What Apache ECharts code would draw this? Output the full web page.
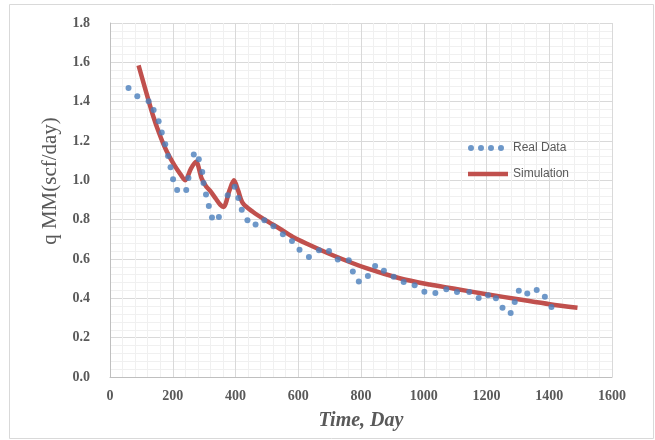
<!DOCTYPE html>
<html>
<head>
<meta charset="utf-8">
<script src="https://cdn.jsdelivr.net/npm/echarts@6/dist/echarts.min.js"></script>
<style>html,body{margin:0;padding:0;background:#fff;}#c{width:655px;height:440px;}</style>
</head>
<body>
<div id="c"></div>
<script>
// Real Data: [day, q]
const realDays = [59,87,123,139,155,165,176,185,193,201,214,243,250,267,283,294,298,306,315,325,347,375,397,409,420,438,464,492,521,551,580,604,634,666,698,726,761,774,793,822,845,873,904,936,971,1002,1037,1072,1106,1145,1175,1205,1230,1251,1277,1290,1303,1330,1360,1386,1407];
const realQ    = [1.470,1.428,1.402,1.357,1.301,1.243,1.184,1.124,1.067,1.006,0.951,0.951,1.012,1.131,1.107,1.043,0.987,0.928,0.870,0.811,0.814,0.924,0.967,0.910,0.851,0.797,0.775,0.797,0.767,0.726,0.692,0.647,0.610,0.644,0.641,0.597,0.594,0.537,0.485,0.514,0.565,0.540,0.510,0.483,0.466,0.434,0.427,0.446,0.432,0.432,0.402,0.416,0.400,0.352,0.326,0.381,0.439,0.424,0.442,0.408,0.356];
// Simulation
const simDays = [91,115,136,157,179,205,227,240,258,274,292,306,320,338,352,362,381,395,408,423,455,498,540,583,631,710,817,923,1019,1094,1200,1306,1402,1490];
const simQ    = [1.585,1.450,1.335,1.238,1.153,1.077,1.025,1.000,1.060,1.095,1.010,0.970,0.945,0.905,0.875,0.865,0.950,1.000,0.950,0.885,0.840,0.795,0.755,0.712,0.675,0.619,0.553,0.502,0.470,0.450,0.421,0.394,0.370,0.352];
const xTicks = [0,200,400,600,800,1000,1200,1400,1600];
const yTicks = [0,0.2,0.4,0.6,0.8,1.0,1.2,1.4,1.6,1.8];

const realData = realDays.map((d,i)=>[d,realQ[i]]);
const simData = simDays.map((d,i)=>[d,simQ[i]]);

const chart = echarts.init(document.getElementById('c'), null, {renderer:'canvas'});
const dotIcon = 'path://M0,0M40,6M0,3a3,3 0 1,0 6,0a3,3 0 1,0 -6,0M10,3a3,3 0 1,0 6,0a3,3 0 1,0 -6,0M20,3a3,3 0 1,0 6,0a3,3 0 1,0 -6,0M30,3a3,3 0 1,0 6,0a3,3 0 1,0 -6,0Z';
const lineIcon = 'path://M0,0L40,0L40,4.5L0,4.5Z';
chart.setOption({
  backgroundColor:'#ffffff',
  animation:false,
  grid:{left:110, right:43, top:23, bottom:63},
  legend:{
    orient:'vertical', left:463, top:137, itemGap:14, itemWidth:40, itemHeight:12,
    textStyle:{color:'#595959', fontSize:12, fontFamily:'Liberation Sans'},
    data:[{name:'Real Data', icon:dotIcon},{name:'Simulation', icon:lineIcon}]
  },
  xAxis:{
    type:'value', min:xTicks[0], max:xTicks[xTicks.length-1], interval:200,
    name:'Time, Day', nameLocation:'middle', nameGap:34,
    nameTextStyle:{fontFamily:'Liberation Serif', fontStyle:'italic', fontWeight:'bold', fontSize:20, color:'#595959'},
    axisLine:{show:true, lineStyle:{color:'#bfbfbf'}},
    axisTick:{show:false},
    axisLabel:{margin:12, fontFamily:'Liberation Serif', fontWeight:'bold', fontSize:14, color:'#595959',
      formatter:v=>String(v)},
    splitLine:{show:true, lineStyle:{color:'#d9d9d9'}},
    minorTick:{show:false, splitNumber:5},
    minorSplitLine:{show:true, lineStyle:{color:'#f0f0f0'}}
  },
  yAxis:{
    type:'value', min:yTicks[0], max:yTicks[yTicks.length-1], interval:0.2,
    axisLine:{show:true, lineStyle:{color:'#bfbfbf'}},
    axisTick:{show:false},
    axisLabel:{margin:20, fontFamily:'Liberation Serif', fontWeight:'bold', fontSize:14, color:'#595959',
      formatter:v=>v.toFixed(1)},
    splitLine:{show:true, lineStyle:{color:'#d9d9d9'}},
    minorTick:{show:false, splitNumber:5},
    minorSplitLine:{show:true, lineStyle:{color:'#f0f0f0'}}
  },
  graphic:[
    {type:'rect', shape:{x:9.5,y:4.5,width:644,height:434}, style:{fill:'none', stroke:'#d9d9d9', lineWidth:1}, silent:true, z:-1},
    {type:'text', x:50, y:181, rotation:Math.PI/2,
     style:{text:'q MM(scf/day)', fontFamily:'Liberation Serif', fontSize:21, fill:'#595959', align:'center', verticalAlign:'middle'}}
  ],
  series:[
    {name:'Real Data', type:'scatter', data:realData, symbol:'circle', symbolSize:6,
     itemStyle:{color:'#4a7ebb'}, z:3},
    {name:'Simulation', type:'line', data:simData, smooth:0.3, showSymbol:false, symbol:'none',
     lineStyle:{color:'#c0504d', width:4.5}, itemStyle:{color:'#c0504d'}, z:2}
  ]
});
</script>
</body>
</html>
